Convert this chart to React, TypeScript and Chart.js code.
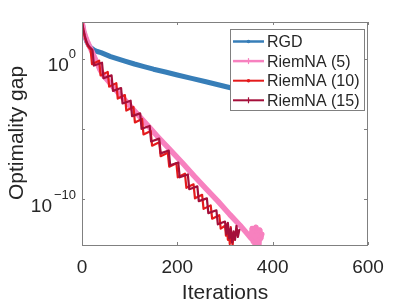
import React, { useEffect, useRef } from 'react';
import { Chart, registerables } from 'chart.js';
Chart.register(...registerables);

// ---- data (y values stored as log10 exponents) ----
const rgdIter = [0, 3, 6, 10, 14, 18, 25, 32, 40, 50, 60, 75, 90, 110, 130, 150, 175, 200, 230, 260, 290, 320, 360, 400, 450];
const rgdExp = [2.6, 2.0, 1.6, 1.2, 0.95, 0.78, 0.6, 0.5, 0.42, 0.28, 0.14, -0.03, -0.19, -0.39, -0.57, -0.76, -0.96, -1.17, -1.41, -1.65, -1.9, -2.15, -2.45, -2.75, -3.05];

const na5Iter = [0, 4, 8, 12, 16, 21, 26, 32, 38, 45, 55, 65, 75, 86, 100, 120, 140, 160, 185, 210, 235, 260, 285, 310, 331, 345, 355, 357, 359, 361, 363, 365, 367, 369, 371, 373, 375, 377];
const na5Exp = [2.6, 1.9, 1.5, 1.15, 0.85, 0.5, 0.1, -0.35, -0.8, -1.2, -1.6, -2.0, -2.4, -2.8, -3.35, -4.1, -4.85, -5.6, -6.5, -7.4, -8.35, -9.25, -10.15, -11.1, -11.85, -12.4, -12.8, -12.1, -13.0, -12.3, -13.2, -12.0, -12.9, -12.4, -13.3, -12.2, -12.8, -12.5];

const na10Iter = [0, 3, 6, 9, 12, 15, 18, 21, 36, 39, 54, 57, 72, 75, 90, 93, 108, 111, 126, 129, 144, 147, 162, 165, 180, 183, 198, 201, 216, 219, 234, 237, 252, 255, 270, 273, 288, 291, 300, 302, 304, 306, 308, 310, 312, 314, 316, 318];
const na10Exp = [2.6, 2.0, 1.5, 1.15, 0.9, 0.75, 0.65, -0.4, -0.15, -1.2, -0.95, -2.0, -1.75, -2.85, -2.6, -3.7, -3.45, -4.55, -4.3, -5.4, -5.15, -6.2, -5.95, -6.95, -6.7, -7.7, -7.45, -8.45, -8.2, -9.2, -8.95, -9.95, -9.7, -10.7, -10.45, -11.4, -11.15, -12.1, -11.9, -12.6, -11.8, -12.9, -12.2, -13.2, -12.0, -12.7, -13.3, -12.4];

const na15Iter = [0, 3, 6, 9, 12, 15, 18, 22, 25, 42, 45, 62, 65, 82, 85, 102, 105, 122, 125, 142, 145, 162, 165, 182, 185, 202, 205, 222, 225, 242, 245, 262, 265, 282, 285, 300, 303, 306, 309, 312, 315, 318, 321, 324, 327, 330];
const na15Exp = [2.6, 2.05, 1.6, 1.25, 1.0, 0.85, 0.75, 0.6, -0.5, -0.3, -1.4, -1.2, -2.3, -2.1, -3.2, -3.0, -4.1, -3.9, -5.0, -4.8, -5.9, -5.7, -6.75, -6.55, -7.6, -7.4, -8.45, -8.25, -9.3, -9.1, -10.15, -9.95, -11.0, -10.8, -11.8, -11.6, -12.5, -11.7, -12.8, -12.1, -13.1, -12.3, -12.9, -11.9, -12.7, -12.2];

const seriesNames = ['RGD', 'RiemNA (5)', 'RiemNA (10)', 'RiemNA (15)'];
const seriesColors = ['#377EB8', '#F781BF', '#E41A1C', '#A50F3A'];

const xTicks = [0, 200, 400, 600];
const yTickExps = [0, -5, -10];
const yLabelExps = [0, -10];
const yMinExp = -13.27;
const yMaxExp = 2.6;

const AXIS = '#808080';
const TEXT = '#262626';
const FONT = '"Liberation Sans", Arial, Helvetica, sans-serif';

const toPts = (it: number[], ex: number[]) => it.map((x, i) => ({ x, y: Math.pow(10, ex[i]) }));

const framePlugin = {
  id: 'framePlugin',
  afterDatasetsDraw(chart: any) {
    const { ctx, chartArea: a, scales } = chart;
    const xs = scales.x, ys = scales.y;
    ctx.save();
    // box
    ctx.strokeStyle = AXIS;
    ctx.lineWidth = 1;
    ctx.strokeRect(a.left + 0.5, a.top + 0.5, a.right - a.left - 1, a.bottom - a.top);
    // ticks
    const tl = 3;
    ctx.beginPath();
    xTicks.forEach((v) => {
      const px = Math.round(xs.getPixelForValue(v)) + 0.5;
      ctx.moveTo(px, a.bottom); ctx.lineTo(px, a.bottom - tl);
      ctx.moveTo(px, a.top); ctx.lineTo(px, a.top + tl);
    });
    yTickExps.forEach((e) => {
      const py = Math.round(ys.getPixelForValue(Math.pow(10, e))) + 0.5;
      ctx.moveTo(a.left, py); ctx.lineTo(a.left + tl, py);
      ctx.moveTo(a.right - 1, py); ctx.lineTo(a.right - 1 - tl, py);
    });
    ctx.stroke();

    // x tick labels
    ctx.fillStyle = TEXT;
    ctx.font = `19px ${FONT}`;
    ctx.textAlign = 'center';
    ctx.textBaseline = 'alphabetic';
    xTicks.forEach((v) => {
      const px = xs.getPixelForValue(v);
      ctx.fillText(String(v), px, 273);
    });
    // y tick labels 10^e
    yLabelExps.forEach((e) => {
      const py = ys.getPixelForValue(Math.pow(10, e));
      const right = 76;
      ctx.font = `13px ${FONT}`;
      const sup = e < 0 ? '\u2212' + String(-e) : String(e);
      const sw = ctx.measureText(sup).width;
      ctx.font = `19px ${FONT}`;
      const bw = ctx.measureText('10').width;
      ctx.textAlign = 'left';
      const gap = e < 0 ? 2 : 0;
      ctx.fillText('10', right - sw - bw - gap, py + 12.5);
      ctx.font = `13px ${FONT}`;
      ctx.fillText(sup, right - sw, py - 0.5);
    });
    // axis titles
    ctx.font = `21px ${FONT}`;
    ctx.textAlign = 'center';
    ctx.textBaseline = 'middle';
    ctx.fillText('Iterations', (a.left + a.right) / 2, 293);
    ctx.save();
    ctx.translate(17, 133);
    ctx.rotate(-Math.PI / 2);
    ctx.fillText('Optimality gap', 0, 0);
    ctx.restore();

    // legend
    const lx = 230.5, ly = 29.5, lw = 134, lh = 81;
    ctx.fillStyle = '#ffffff';
    ctx.fillRect(lx, ly, lw, lh);
    ctx.strokeStyle = AXIS;
    ctx.lineWidth = 1;
    ctx.strokeRect(lx, ly, lw, lh);
    ctx.font = `16px ${FONT}`;
    ctx.textAlign = 'left';
    ctx.textBaseline = 'middle';
    const widths = [2.5, 2.5, 2, 2];
    seriesNames.forEach((name, i) => {
      const y = 41.5 + i * 19.6;
      ctx.strokeStyle = seriesColors[i];
      ctx.lineWidth = widths[i];
      ctx.beginPath();
      ctx.moveTo(233, y); ctx.lineTo(264, y);
      ctx.stroke();
      ctx.fillStyle = seriesColors[i];
      if (i === 0 || i === 2) {
        ctx.beginPath(); ctx.arc(248.5, y, 1.8, 0, Math.PI * 2); ctx.fill();
      } else {
        ctx.lineWidth = 1.2;
        ctx.beginPath();
        ctx.moveTo(248.5, y - 3); ctx.lineTo(248.5, y + 3);
        ctx.stroke();
      }
      ctx.fillStyle = TEXT;
      ctx.fillText(name, 267, y + 1);
    });
    ctx.restore();
  },
};

export default function App() {
  const ref = useRef<HTMLCanvasElement>(null);
  useEffect(() => {
    if (!ref.current) return;
    const chart = new Chart(ref.current, {
      type: 'line',
      data: {
        datasets: [
          {
            label: seriesNames[3], data: toPts(na15Iter, na15Exp), borderColor: seriesColors[3],
            backgroundColor: seriesColors[3], borderWidth: 2.2, pointRadius: 0, order: 0,
            borderJoinStyle: 'round', borderCapStyle: 'round',
          },
          {
            label: seriesNames[2], data: toPts(na10Iter, na10Exp), borderColor: seriesColors[2],
            backgroundColor: seriesColors[2], borderWidth: 2.2, pointRadius: 0, order: 1,
            borderJoinStyle: 'round', borderCapStyle: 'round',
          },
          {
            label: seriesNames[1], data: toPts(na5Iter, na5Exp), borderColor: seriesColors[1],
            backgroundColor: seriesColors[1], borderWidth: 5.5, pointRadius: 2.5, pointStyle: 'cross',
            pointBorderWidth: 1.2, order: 2, borderJoinStyle: 'round', borderCapStyle: 'round',
          },
          {
            label: seriesNames[0], data: toPts(rgdIter, rgdExp), borderColor: seriesColors[0],
            backgroundColor: seriesColors[0], borderWidth: 5, pointRadius: 0, order: 3,
            borderJoinStyle: 'round', borderCapStyle: 'round',
          },
        ],
      },
      options: {
        responsive: false,
        animation: false,
        devicePixelRatio: 1,
        parsing: true,
        layout: { padding: { top: 22, right: 39, left: 0, bottom: 0 } },
        plugins: { legend: { display: false }, tooltip: { enabled: false }, title: { display: false } },
        elements: { line: { tension: 0 } },
        scales: {
          x: {
            type: 'linear', min: 0, max: 600,
            ticks: { display: false }, grid: { display: false }, border: { display: false },
            afterFit: (s: any) => { s.height = 60; },
          },
          y: {
            type: 'logarithmic', min: Math.pow(10, yMinExp), max: Math.pow(10, yMaxExp),
            ticks: { display: false }, grid: { display: false }, border: { display: false },
            afterFit: (s: any) => { s.width = 82; },
          },
        },
      },
      plugins: [framePlugin],
    });
    return () => chart.destroy();
  }, []);
  return (
    <div style={{ position: 'absolute', left: 0, top: 0, width: 407, height: 305, background: '#fff' }}>
      <canvas ref={ref} width={407} height={305} />
    </div>
  );
}
